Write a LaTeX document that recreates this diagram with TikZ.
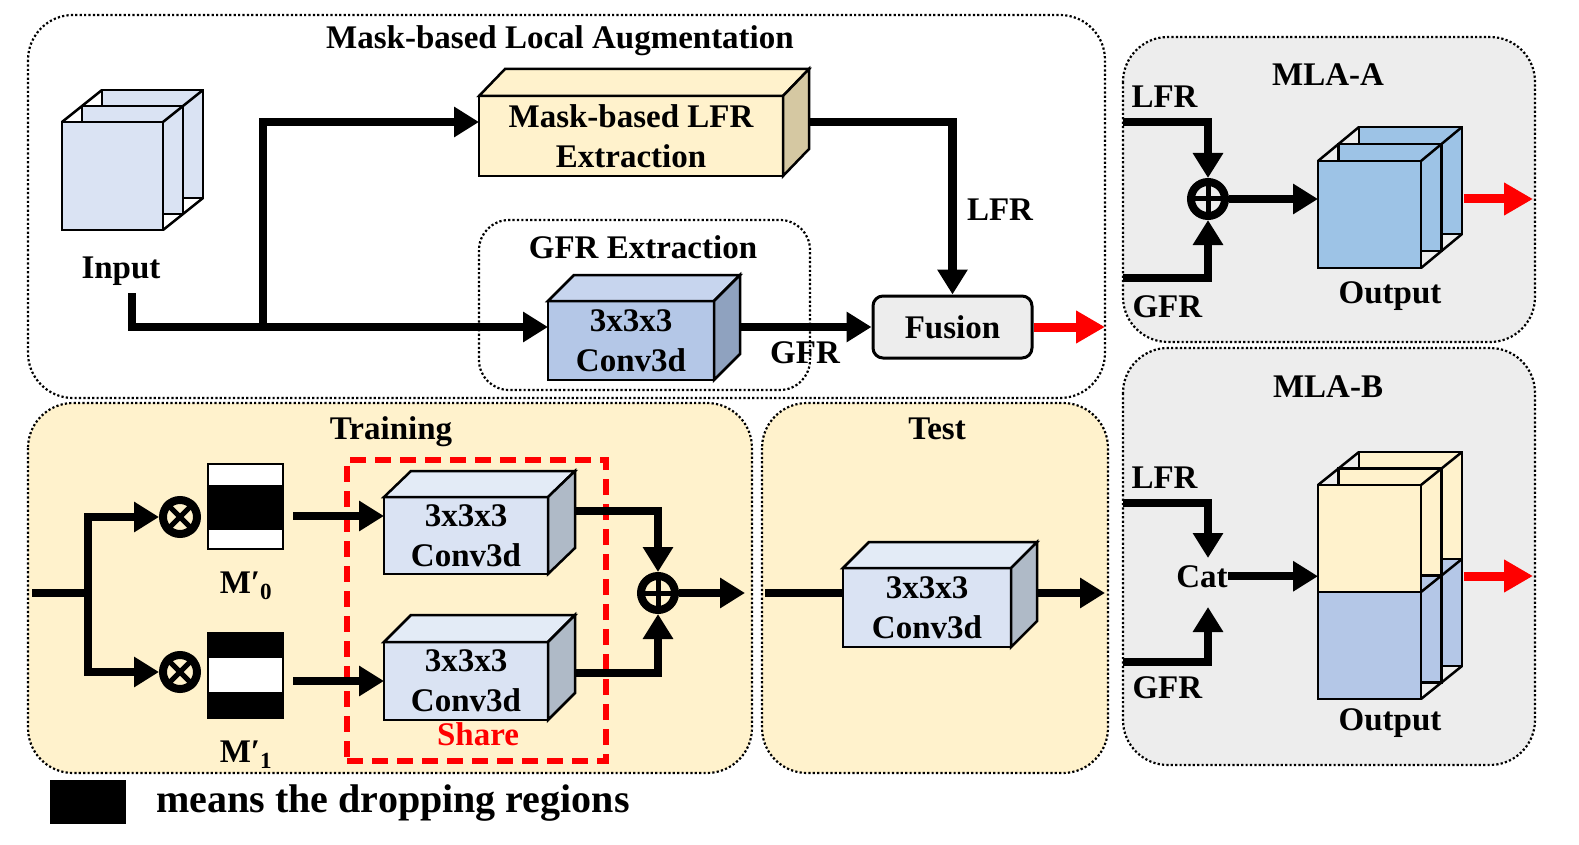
\documentclass[tikz,border=0pt]{standalone}
\usepackage{fontspec}
\setmainfont{Liberation Serif}
\usetikzlibrary{arrows.meta,calc}
\definecolor{yel}{HTML}{FFF2CC}
\definecolor{gry}{HTML}{EDEDED}
\definecolor{inblue}{HTML}{DAE3F3}
\definecolor{outblue}{HTML}{9DC3E6}
\definecolor{midblue}{HTML}{B4C7E7}
\definecolor{gfrtop}{HTML}{C7D5EE}
\definecolor{gfrside}{HTML}{8FA2BF}
\definecolor{convtop}{HTML}{E3EBF6}
\definecolor{convside}{HTML}{AFBAC7}
\definecolor{lfrside}{HTML}{D5C8A2}
\definecolor{redc}{HTML}{FF0000}
\tikzset{
 dotbox/.style={line width=2.2pt, dash pattern=on 2.2pt off 2.2pt},
 arr/.style={line width=8.5pt, -{Triangle[length=25pt,width=29pt]}},
 ln/.style={line width=8.5pt},
 redarr/.style={draw=redc, line width=9pt, -{Triangle[length=29pt,width=31pt]}},
 facel/.style={line width=2.5pt},
 cubefront/.style={draw, line width=2.5pt, outer sep=0pt, inner sep=0pt, align=center},
 layer/.style={draw, line width=2.5pt, outer sep=0pt, inner sep=0pt},
 opnode/.style={circle, draw, line width=8pt, minimum size=34pt, inner sep=0pt},
 lbl/.style={anchor=base},
 lblw/.style={anchor=base west},
}
% faces of a cuboid whose front face is node #1
\newcommand{\cubefaces}[5]{%
  \draw[facel, fill=#4] (#1.north west) -- ++(#2,#3) -- ($(#1.north east)+(#2,#3)$) -- (#1.north east) -- cycle;
  \draw[facel, fill=#5] (#1.north east) -- ++(#2,#3) -- ($(#1.south east)+(#2,#3)$) -- (#1.south east) -- cycle;
}
% stack of three slices: name, x, y (top-left of front), w, h, dx, dy, colour
\newcommand{\featstack}[8]{%
  \node[layer, fill=#8, minimum width=#4pt, minimum height=#5pt, anchor=north west] (#1c) at ({#2+2*(#6)},{#3+2*(#7)}) {};
  \node[layer, fill=#8, minimum width=#4pt, minimum height=#5pt, anchor=north west] (#1b) at ({#2+(#6)},{#3+(#7)}) {};
  \draw[facel] (#1c.north west) -- (#1b.north west) (#1c.north east) -- (#1b.north east) (#1c.south east) -- (#1b.south east);
  \node[layer, fill=#8, minimum width=#4pt, minimum height=#5pt, anchor=north west] (#1a) at (#2,#3) {};
  \draw[facel] (#1b.north west) -- (#1a.north west) (#1b.north east) -- (#1a.north east) (#1b.south east) -- (#1a.south east);
}
\newcommand{\splitlayer}[3]{%
  \node[layer, fill=yel, minimum width=103pt, minimum height=107pt, anchor=north west] (#1t) at (#2,#3) {};
  \node[layer, fill=midblue, minimum width=103pt, minimum height=107pt, anchor=north west] (#1b) at (#1t.south west) {};
}
\newcommand{\splitlinks}[2]{%
  \draw[facel] (#1t.north west) -- (#2t.north west) (#1t.north east) -- (#2t.north east)
    (#1t.south east) -- (#2t.south east) (#1b.south east) -- (#2b.south east);
}
\begin{document}
\begin{tikzpicture}[x=1pt,y=-1pt,font=\bfseries\fontsize{33}{40}\selectfont]
\useasboundingbox (0,0) rectangle (1579,845);

% ---------- containers ----------
\draw[dotbox, rounded corners=45pt] (28,15) rectangle (1105,398);
\draw[dotbox, fill=gry, rounded corners=45pt] (1123,37) rectangle (1535,342);
\draw[dotbox, fill=gry, rounded corners=45pt] (1123,348) rectangle (1535,765);
\draw[dotbox, fill=yel, rounded corners=45pt] (28,403) rectangle (752,773);
\draw[dotbox, fill=yel, rounded corners=45pt] (762,403) rectangle (1108,773);
\draw[dotbox, rounded corners=30pt] (479,220) rectangle (810,390);

% ---------- titles ----------
\node[lbl] (tmla) at (560,49) {Mask-based Local Augmentation};
\node[lbl] (tgfr) at (643,258) {GFR Extraction};
\node[lbl] (ta) at (1328,86) {MLA-A};
\node[lbl] (tb) at (1328,397) {MLA-B};
\node[lbl] (ttr) at (391,439) {Training};
\node[lbl] (tte) at (937,439) {Test};

% ---------- top: MLA ----------
\featstack{in}{62}{122}{101}{108}{20}{-16}{inblue}
\node[lbl] (inlbl) at (121,278) {Input};

\node[cubefront, fill=yel, minimum width=304pt, minimum height=80pt] (lfr) at (631,136) {Mask-based LFR\\Extraction};
\cubefaces{lfr}{26}{-27}{yel}{lfrside}

\node[cubefront, fill=midblue, minimum width=166pt, minimum height=79pt] (gconv) at (631,340.5) {3x3x3\\Conv3d};
\cubefaces{gconv}{26}{-26}{gfrtop}{gfrside}

\node[draw, fill=gry, line width=3pt, rounded corners=10pt, minimum width=159pt, minimum height=62pt, inner sep=0pt] (fusion) at (952.5,327) {Fusion};

\coordinate (inout) at (132,293);
\coordinate (split) at (263,327);
\coordinate (lfrin) at ($(lfr.north west)!0.325!(lfr.south west)$);
\coordinate (gout) at (740,327);
\coordinate (lout) at (809,122);
\coordinate (redtop) at (1105,327);
\draw[arr] (inout) |- (split -| gconv.west);
\draw[arr] (split) |- (lfrin);
\draw[arr] (gout) -- (fusion.west);
\draw[arr] (lout) -| (fusion.north);
\draw[redarr] (fusion.east) -- (redtop);
\node[lbl] (gfrlbl) at (805,363) {GFR};
\node[lbl] (lfrlbl) at (1000,221) {LFR};

% ---------- MLA-A ----------
\node[opnode] (opA) at (1208,199) {};
\draw[line width=5pt] (opA.north) -- (opA.south) (opA.west) -- (opA.east);
\featstack{oa}{1318}{161}{103}{107}{20.5}{-17}{outblue}
\coordinate (alfr) at (1123,122);
\coordinate (agfr) at (1123,278);
\draw[arr] (alfr) -| (opA);
\draw[arr] (agfr) -| (opA);
\draw[arr] (opA) -- (opA -| oaa.west);
\coordinate (aro) at (1464,199);
\coordinate (are) at (1533,199);
\draw[redarr] (aro) -- (are);
\node[lblw] (alfrl) at (1128,108) {LFR};
\node[lblw] (agfrl) at (1129,317) {GFR};
\node[lbl] (aout) at (1390,303) {Output};

% ---------- MLA-B ----------
\splitlayer{obc}{1359}{452}
\splitlayer{obb}{1338.5}{468.5}
\splitlinks{obc}{obb}
\splitlayer{oba}{1318}{485}
\splitlinks{obb}{oba}
\node[lbl, inner sep=0pt] (cat) at (1202,587) {Cat};
\coordinate (blfr) at (1123,503);
\coordinate (bgfr) at (1123,662);
\coordinate (catin1) at (1208,558);
\coordinate (catin2) at (1208,607);
\draw[arr] (blfr) -| (catin1);
\draw[arr] (bgfr) -| (catin2);
\draw[arr] (cat.east) -- (cat.east -| obat.west);
\coordinate (bro) at (1464,576);
\coordinate (bre) at (1533,576);
\draw[redarr] (bro) -- (bre);
\node[lblw] (blfrl) at (1128,488) {LFR};
\node[lblw] (bgfrl) at (1129,698) {GFR};
\node[lbl] (bout) at (1390,730) {Output};

% ---------- Training ----------
\node[draw=redc, dash pattern=on 16pt off 9pt, line width=6pt, minimum width=259pt, minimum height=301pt, anchor=north west, inner sep=0pt] (share) at (344,457) {};
\node[lbl, text=redc] (sharel) at (478,745) {Share};

\node[opnode] (ot1) at (180,517) {};
\draw[line width=5pt] (ot1.north east) -- (ot1.south west) (ot1.north west) -- (ot1.south east);
\node[opnode] (ot2) at (180,672) {};
\draw[line width=5pt] (ot2.north east) -- (ot2.south west) (ot2.north west) -- (ot2.south east);

\node[draw, line width=2.5pt, fill=white, minimum width=75pt, minimum height=85pt, inner sep=0pt, outer sep=0pt] (m0) at (245.5,506.5) {};
\fill ($(m0.north west)+(0,21)$) rectangle ($(m0.north east)+(0,66)$);
\node[draw, line width=2.5pt, fill=black, minimum width=75pt, minimum height=85pt, inner sep=0pt, outer sep=0pt] (m1) at (245.5,675.5) {};
\fill[white] ($(m1.north west)+(1.25,25)$) rectangle ($(m1.north east)+(-1.25,59)$);
\node[lbl] (m0l) at (246,593) {M\char"2032\textsubscript{0}};
\node[lbl] (m1l) at (246,762) {M\char"2032\textsubscript{1}};

\node[cubefront, fill=inblue, minimum width=164pt, minimum height=77pt] (c1) at (466,535.5) {3x3x3\\Conv3d};
\cubefaces{c1}{27}{-26}{convtop}{convside}
\node[cubefront, fill=inblue, minimum width=164pt, minimum height=78pt] (c2) at (466,681) {3x3x3\\Conv3d};
\cubefaces{c2}{27}{-27}{convtop}{convside}

\node[opnode] (op2) at (658,593) {};
\draw[line width=5pt] (op2.north) -- (op2.south) (op2.west) -- (op2.east);

\coordinate (tin) at (32,593);
\coordinate (tsplit) at (88,593);
\draw[ln] (tin) -- (tsplit);
\draw[arr] (tsplit) |- (ot1);
\draw[arr] (tsplit) |- (ot2);
\coordinate (m0o) at (293,516);
\coordinate (m1o) at (293,681);
\draw[arr] (m0o) -- (m0o -| c1.west);
\draw[arr] (m1o) -- (c2.west);
\coordinate (c1o) at (575,511);
\coordinate (c2o) at (575,673);
\draw[arr] (c1o) -| (op2);
\draw[arr] (c2o) -| (op2);
\coordinate (trout) at (745,593);
\draw[arr] (op2) -- (trout);

% ---------- Test ----------
\node[cubefront, fill=inblue, minimum width=168pt, minimum height=79pt] (tc) at (927,607.5) {3x3x3\\Conv3d};
\cubefaces{tc}{26}{-26}{convtop}{convside}
\coordinate (tein) at (765,593);
\draw[ln] (tein) -- (tein -| tc.west);
\coordinate (teout) at (1037,593);
\coordinate (teend) at (1105,593);
\draw[arr] (teout) -- (teend);

% ---------- legend ----------
\node[fill=black, minimum width=76pt, minimum height=44pt, anchor=north west, inner sep=0pt] (legbox) at (50,780) {};
\node[anchor=base west, font=\bfseries\fontsize{40}{48}\selectfont] (legtxt) at (153,812) {means the dropping regions};
\end{tikzpicture}
\end{document}
